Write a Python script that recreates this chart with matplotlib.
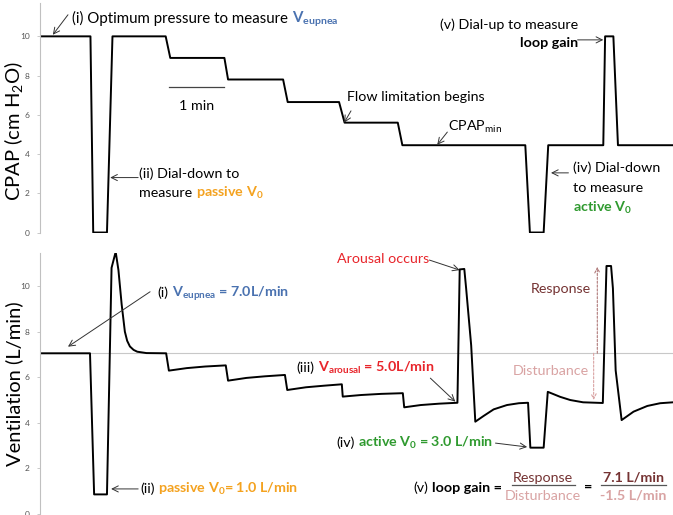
import matplotlib
matplotlib.use('Agg')
import matplotlib.pyplot as plt
from matplotlib import transforms

plt.rcParams['font.family'] = ['Lato', 'DejaVu Sans']
plt.rcParams['mathtext.fontset'] = 'custom'
plt.rcParams['mathtext.rm'] = 'Lato'
plt.rcParams['mathtext.bf'] = 'Lato:bold'
plt.rcParams['mathtext.it'] = 'Lato:italic'

# CPAP protocol (time in s, pressure in cm H2O)
t_cpap = [0, 55, 58, 73, 79, 137, 142, 201, 205, 265, 270, 326, 332, 390, 395,
          529, 534, 549, 554, 614, 616, 625, 630, 690]
cpap = [10, 10, 0, 0, 10, 10, 8.9, 8.9, 7.8, 7.8, 6.65, 6.65, 5.6, 5.6, 4.45,
        4.45, 0, 0, 4.45, 4.45, 10, 10, 4.45, 4.45]

# ventilation (time in s, L/min)
t_vent = [0, 54.5, 59, 73, 78, 82.5, 85.5, 89, 92.5, 95, 98, 102, 106, 116, 137.5,
          140.5, 160, 180, 202.5, 205, 225, 245, 267, 269.5, 290, 310, 329, 330, 350, 372, 395.5, 397, 415, 435,
          455, 457.5, 462.5, 464.5, 470, 474.5, 483.5, 494.5, 509, 522, 532, 534.5, 549, 553.5, 567, 578, 592,
          613.5, 617.5, 622.5, 624.5, 627.5, 634, 647, 662, 676, 690]
vent = [7.05, 7.05, 0.86, 0.86, 10.8, 11.5, 10.7, 9.2, 8.0, 7.6, 7.35, 7.2, 7.12, 7.06, 7.05,
        6.29, 6.4, 6.47, 6.52, 5.85, 5.97, 6.04, 6.1, 5.44, 5.56, 5.63, 5.69, 5.15, 5.22, 5.27, 5.3, 4.68, 4.78, 4.84,
        4.88, 10.73, 10.75, 9.9, 7.4, 4.05, 4.3, 4.59, 4.78, 4.86, 4.88, 2.91, 2.91, 5.36, 5.14, 5.0, 4.9,
        4.87, 10.88, 10.88, 9.9, 6.3, 4.12, 4.49, 4.74, 4.86, 4.9]

v_eupnea = 7.05
v_dist_end = 5.0
v_resp_end = 10.85
yticks = [0, 2, 4, 6, 8, 10]

BLUE = '#4a72b0'
ORANGE = '#f4a21f'
GREEN = '#2f9a2f'
RED = '#e8252b'
MAROON = '#753333'
PINK = '#d9a3a3'
FS = 10.3

fig = plt.figure(figsize=(6.73, 5.15), dpi=100)
ax1 = fig.add_axes([40 / 673, 1 - 232.5 / 515, 633 / 673, 229.5 / 515])
ax2 = fig.add_axes([40 / 673, 1 - 514 / 515, 633 / 673, 261 / 515])


def style(ax, top):
    ax.set_xlim(0, 690)
    ax.set_ylim(0, top)
    for s in ['top', 'right', 'bottom']:
        ax.spines[s].set_visible(False)
    ax.spines['left'].set_color('#c0c0c0')
    ax.spines['left'].set_linewidth(0.8)
    ax.set_xticks([])
    ax.set_yticks(yticks)
    ax.tick_params(axis='y', length=2.5, width=0.6, color='#c0c0c0',
                   labelsize=6, labelcolor='#555555', pad=5)


style(ax1, 11.7)
style(ax2, 11.45)

ax1.plot(t_cpap, cpap, color='black', lw=1.4)
ax2.axhline(v_eupnea, color='#c8c8c8', lw=0.8)
ax2.plot(t_vent, vent, color='black', lw=1.4)

ax1.set_ylabel('CPAP (cm H$_2$O)', fontsize=14.5)
ax1.yaxis.set_label_coords(-0.024, 0.44)
ax2.set_ylabel('Ventilation (L/min)', fontsize=14.5)
ax2.yaxis.set_label_coords(-0.027, 0.5)

arrow = dict(arrowstyle='->', color='#333333', lw=0.7, shrinkA=0, shrinkB=0, mutation_scale=11)


def point(ax, head, tail, props=arrow):
    ax.annotate('', xy=head, xytext=tail, arrowprops=props)


def colour_line(ax, x, y, parts, size=FS):
    """Write (text, colour, weight) parts one after the other on one baseline."""
    r = fig.canvas.get_renderer()

    def width(s, w):
        t = ax.text(0, 0, s, fontsize=size, fontweight=w)
        wd = t.get_window_extent(r).width
        t.remove()
        return wd

    gap = width('a a', 'normal') - width('aa', 'normal')
    trans = ax.transData
    for s, c, w in parts:
        if s.startswith(' '):
            trans = transforms.offset_copy(trans, x=gap, units='dots')
            s = s.lstrip()
        ax.text(x, y, s, color=c, fontsize=size, fontweight=w, transform=trans,
                ha='left', va='baseline')
        trans = transforms.offset_copy(trans, x=width(s, w), units='dots')


# --- top panel annotations
colour_line(ax1, 35, 10.7, [('(i) Optimum pressure to measure', 'black', 'normal'),
                            (r' $\mathbf{V}_{\mathbf{eupnea}}$', BLUE, 'bold')], size=10.8)
point(ax1, (14, 10.08), (30.5, 11.1))

colour_line(ax1, 108, 2.78, [('(ii) Dial-down to', 'black', 'normal')])
colour_line(ax1, 108, 1.81, [('measure', 'black', 'normal'),
                             (r' passive $\mathbf{V}_{\mathbf{0}}$', ORANGE, 'bold')])
point(ax1, (76.5, 2.8), (107, 2.8))

ax1.plot([141, 141 + 60], [7.42, 7.42], color='#444444', lw=0.9)
ax1.text(171, 6.45, '1 min', fontsize=FS, ha='center', va='center')

ax1.text(335, 6.93, 'Flow limitation begins', fontsize=FS, va='center')
point(ax1, (331.6, 5.6), (339, 6.2))

ax1.text(445, 5.18, r'CPAP$_{\mathrm{min}}$', fontsize=FS, va='baseline')
point(ax1, (433, 4.47), (444, 5.12))

colour_line(ax1, 580.5, 3.09, [('(iv) Dial-down', 'black', 'normal')])
colour_line(ax1, 580.5, 2.07, [('to measure', 'black', 'normal')])
colour_line(ax1, 580.5, 1.05, [(r'active $\mathbf{V}_{\mathbf{0}}$', GREEN, 'bold')])
point(ax1, (557, 3.04), (576, 3.04))

ax1.text(587, 10.38, '(v) Dial-up to measure', fontsize=FS, ha='right', va='baseline')
ax1.text(587, 9.46, 'loop gain', fontsize=FS, ha='right', va='baseline', fontweight='bold')
point(ax1, (614, 9.82), (586, 9.82))

# --- bottom panel annotations
colour_line(ax2, 127.5, 9.52, [('(i)', 'black', 'normal'),
                               (r' $\mathbf{V}_{\mathbf{eupnea}}$ = 7.0L/min', BLUE, 'bold')])
point(ax2, (30.5, 7.34), (120, 9.75))

colour_line(ax2, 109, 0.92, [('(ii)', 'black', 'normal'),
                             (r' passive $\mathbf{V}_{\mathbf{0}}$= 1.0 L/min', ORANGE, 'bold')])
point(ax2, (77.5, 1.1), (107, 1.1))

colour_line(ax2, 279, 6.23, [('(iii)', 'black', 'normal'),
                             (r' $\mathbf{V}_{\mathbf{arousal}}$ = 5.0L/min', RED, 'bold')])
point(ax2, (452.7, 4.93), (425.5, 5.96))

ax2.text(324, 11.0, 'Arousal occurs', fontsize=FS, color=RED, va='baseline')
point(ax2, (457.5, 10.7), (424.5, 11.14))

colour_line(ax2, 323, 2.94, [('(iv)', 'black', 'normal'),
                             (r' active $\mathbf{V}_{\mathbf{0}}$ = 3.0 L/min', GREEN, 'bold')])
point(ax2, (531, 2.94), (496.5, 3.11))

ax2.text(600, 9.87, 'Response', fontsize=FS, color=MAROON, ha='right', va='center')
ax2.text(598, 6.29, 'Disturbance', fontsize=FS, color=PINK, ha='right', va='center')
point(ax2, (607.5, v_resp_end), (607.5, v_eupnea),
      dict(arrowstyle='->', color='#b07a7a', lw=0.8, ls=(0, (2, 1.5)), shrinkA=0, shrinkB=0, mutation_scale=9))
point(ax2, (603.5, v_dist_end), (603.5, v_eupnea),
      dict(arrowstyle='->', color=PINK, lw=0.8, ls=(0, (2, 1.5)), shrinkA=0, shrinkB=0, mutation_scale=9))

colour_line(ax2, 407, 0.95, [('(v)', 'black', 'normal'), (' loop gain =', 'black', 'bold')])
ax2.text(548.5, 1.59, 'Response', fontsize=FS, color=MAROON, ha='center', va='center')
ax2.text(548.5, 0.79, 'Disturbance', fontsize=FS, color=PINK, ha='center', va='center')
ax2.plot([515, 583.5], [1.27, 1.27], color='#555555', lw=0.9)
ax2.text(598, 1.18, '=', fontsize=FS, ha='center', va='center', fontweight='bold')
ax2.text(647, 1.59, '7.1 L/min', fontsize=FS, color=MAROON, ha='center', va='center', fontweight='bold')
ax2.text(647, 0.79, '-1.5 L/min', fontsize=FS, color=PINK, ha='center', va='center', fontweight='bold')
ax2.plot([611, 682], [1.27, 1.27], color='#555555', lw=0.9)

fig.savefig('out.png', dpi=100)
